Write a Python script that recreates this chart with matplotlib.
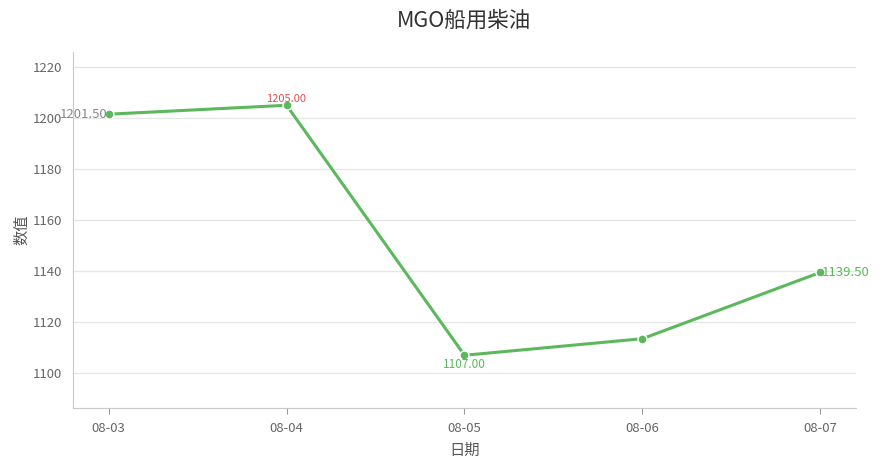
import matplotlib
matplotlib.use('Agg')
import matplotlib.pyplot as plt

plt.rcParams['font.family'] = ['Noto Sans CJK SC', 'DejaVu Sans']

# datos
fechas = ['08-03', '08-04', '08-05', '08-06', '08-07']
valores = [1201.50, 1205.00, 1107.00, 1113.50, 1139.50]
yticks = [1100, 1120, 1140, 1160, 1180, 1200, 1220]

verde = '#5cb85c'
x = list(range(len(fechas)))

fig = plt.figure(figsize=(8.84, 4.68), dpi=100)
ax = fig.add_axes([0.0826, 0.128, 0.8857, 0.761])

ax.plot(x, valores, color=verde, linewidth=2.2, marker='o', markersize=6.5,
        markeredgecolor='white', markeredgewidth=1.0, zorder=3)

# etiquetas de puntos
ax.annotate(f'{valores[0]:.2f}', (x[0], valores[0]), xytext=(-1, 0), textcoords='offset points',
            ha='right', va='center', fontsize=9.5, color='#888888')
ax.annotate(f'{valores[1]:.2f}', (x[1], valores[1]), xytext=(0, 1), textcoords='offset points',
            ha='center', va='bottom', fontsize=8, color='#e05050')
ax.annotate(f'{valores[2]:.2f}', (x[2], valores[2]), xytext=(0, -2), textcoords='offset points',
            ha='center', va='top', fontsize=8.5, color=verde)
ax.annotate(f'{valores[4]:.2f}', (x[4], valores[4]), xytext=(1, 0), textcoords='offset points',
            ha='left', va='center', fontsize=9.5, color=verde)

ax.set_xlim(-0.2, 4.2)
ax.set_ylim(1086.3, 1225.9)
ax.set_xticks(x)
ax.set_xticklabels(fechas)
ax.set_yticks(yticks)

ax.grid(True, axis='y', color='#e6e6e6', linewidth=0.9)
ax.set_axisbelow(True)
for s in ['top', 'right']:
    ax.spines[s].set_visible(False)
for s in ['left', 'bottom']:
    ax.spines[s].set_color('#c8c8c8')
ax.tick_params(axis='both', colors='#666666', labelsize=9.5, length=4)
ax.tick_params(axis='y', length=0, pad=8)
ax.tick_params(axis='x', color='#999999', pad=6)

ax.set_title('MGO船用柴油', fontsize=15.5, color='#333333', pad=18)
ax.set_xlabel('日期', fontsize=11, color='#555555', labelpad=5)
ax.set_ylabel('数值', fontsize=11, color='#555555', labelpad=2)

plt.savefig('out.png', dpi=100)
